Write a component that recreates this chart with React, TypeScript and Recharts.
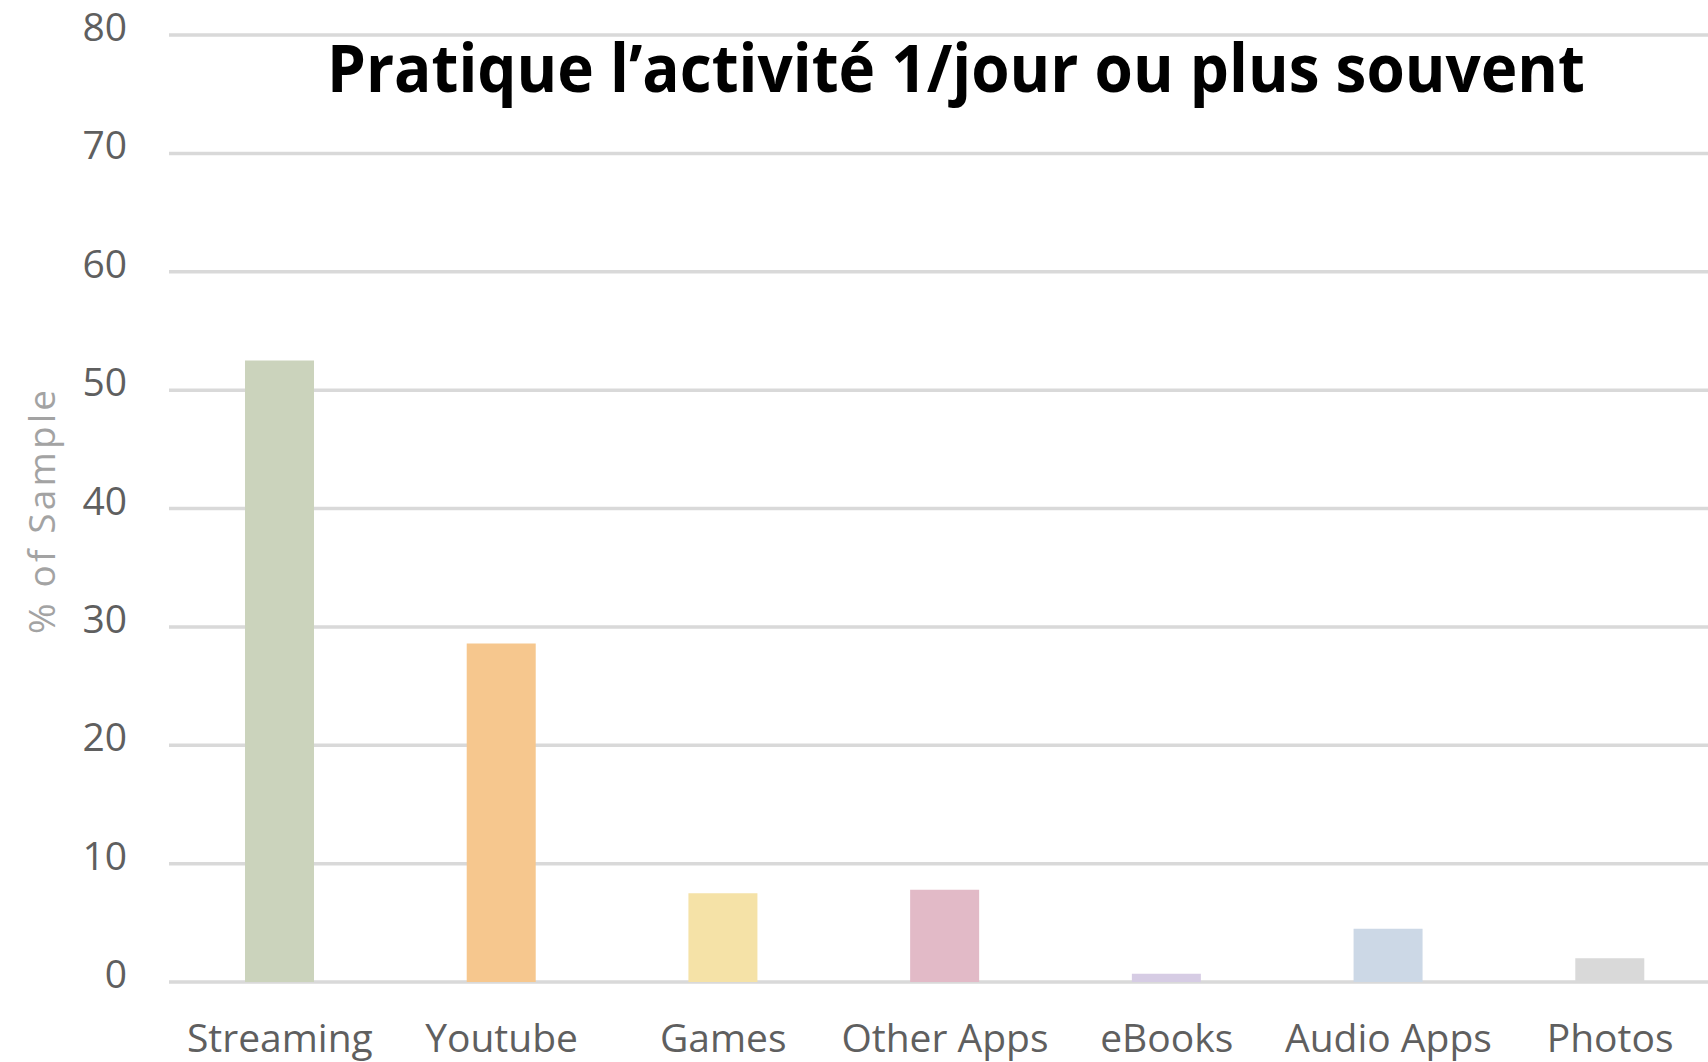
import { BarChart, Bar, XAxis, YAxis, CartesianGrid, Cell } from "recharts";

const categories = ["Streaming", "Youtube", "Games", "Other Apps", "eBooks", "Audio Apps", "Photos"];
const values = [52.5, 28.6, 7.5, 7.8, 0.7, 4.5, 2.0];
const colors = ["#cbd3bc", "#f6c78e", "#f5e2a7", "#e2bac7", "#d6cce4", "#ccd8e6", "#d9d9d9"];
const yTicks = [0, 10, 20, 30, 40, 50, 60, 70, 80];

const chartData = categories.map((name, i) => ({ name, value: values[i] }));

const FONT = "'Open Sans', sans-serif";

function YTick(props: any) {
  const { x, y, payload } = props;
  return (
    <text x={x} y={y - 8} dy="0.36em" textAnchor="end" fill="#5f5f5f" fontSize={39} fontFamily={FONT}>
      {payload.value}
    </text>
  );
}

function XTick(props: any) {
  const { x, y, payload } = props;
  return (
    <text x={x} y={y} dy="0.71em" textAnchor="middle" fill="#5f5f5f" fontSize={39} fontFamily={FONT}>
      {payload.value}
    </text>
  );
}

export default function App() {
  return (
    <div style={{ position: "fixed", left: 0, top: 0, width: 1708, height: 1062, overflow: "hidden", background: "#fff" }}>
      <BarChart
        width={1728}
        height={1062}
        data={chartData}
        margin={{ top: 35, right: 7, bottom: 0, left: 0 }}
        barCategoryGap={0}
      >
        <CartesianGrid vertical={false} stroke="#d9d9d9" strokeWidth={3.5} />
        <XAxis
          dataKey="name"
          axisLine={false}
          tickLine={false}
          tickSize={0}
          tickMargin={42}
          height={80}
          interval={0}
          tick={<XTick />}
        />
        <YAxis
          domain={[0, 80]}
          ticks={yTicks}
          axisLine={false}
          tickLine={false}
          tickSize={0}
          tickMargin={42}
          width={169}
          tick={<YTick />}
        />
        <Bar dataKey="value" barSize={69} isAnimationActive={false}>
          {chartData.map((d, i) => (
            <Cell key={d.name} fill={colors[i]} />
          ))}
        </Bar>
      </BarChart>
      <svg width={1708} height={1062} style={{ position: "absolute", left: 0, top: 0, pointerEvents: "none" }}>
        <text
          x={327}
          y={92}
          fontSize={67}
          fontWeight="bold"
          fontFamily={FONT}
          fill="#000"
          textLength={1258}
          lengthAdjust="spacingAndGlyphs"
        >
          Pratique l’activité 1/jour ou plus souvent
        </text>
        <text
          transform="translate(55, 512) rotate(-90)"
          textAnchor="middle"
          fontSize={37}
          fontFamily={FONT}
          fill="#a3a3a3"
          textLength={244}
          lengthAdjust="spacing"
        >
          % of Sample
        </text>
      </svg>
    </div>
  );
}
